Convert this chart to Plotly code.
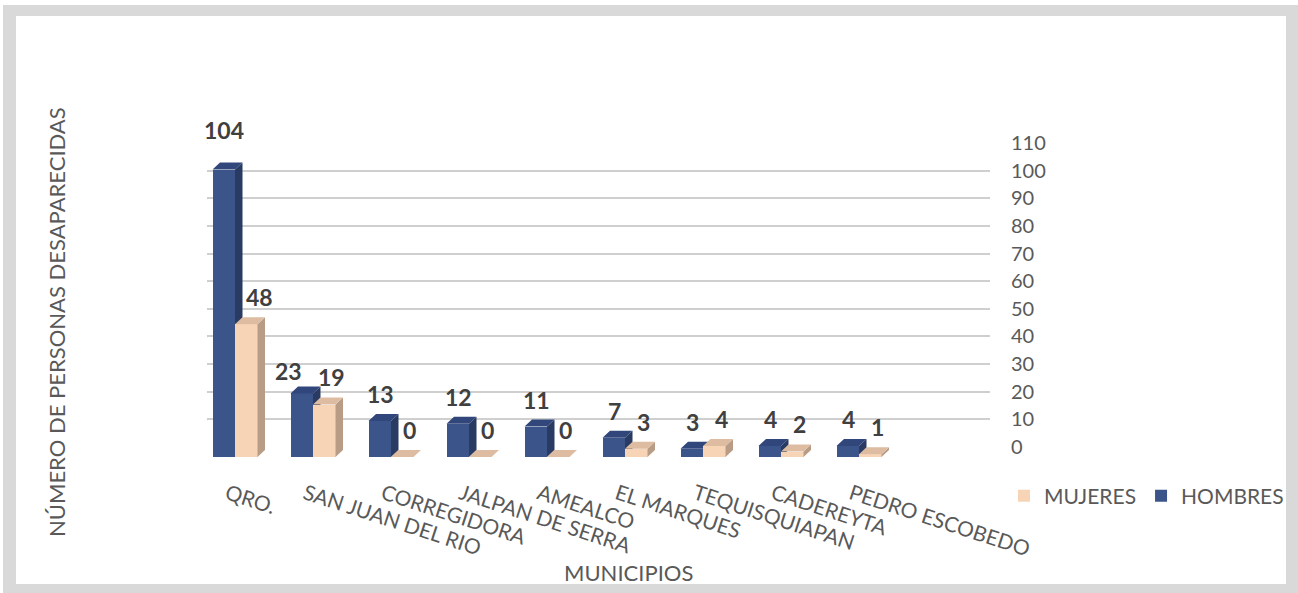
import plotly.graph_objects as go

# ---- data -------------------------------------------------------------
municipios = ["QRO.", "SAN JUAN DEL RIO", "CORREGIDORA", "JALPAN DE SERRA",
              "AMEALCO", "EL MARQUES", "TEQUISQUIAPAN", "CADEREYTA",
              "PEDRO ESCOBEDO"]
hombres = [104, 23, 13, 12, 11, 7, 3, 4, 4]
mujeres = [48, 19, 0, 0, 0, 3, 4, 2, 1]
y_ticks = list(range(0, 111, 10))

# ---- geometry / style -------------------------------------------------
W, H = 1298, 593
PX_PER_CAT = 78.0            # pixel width of one category slot
PX_PER_UNIT = 27.64 / 10     # pixels per one person on the value axis
BAR_W = 22.5 / PX_PER_CAT    # bar width in category units
DEPTH_DX = 7.5 / PX_PER_CAT  # 3-D depth offset (x, category units)
DEPTH_DY = 7.0 / PX_PER_UNIT # 3-D depth offset (y, value units)
LABEL_NUDGE = 8 / PX_PER_CAT # rotated category labels start a bit left

NAVY = "#3B5489"
NAVY_SIDE = "#2A3B63"
NAVY_TOP = "#31467A"
PEACH = "#F8D4B7"
PEACH_SIDE = "#B99C86"
PEACH_TOP = "#DDBCA2"
GRID = "#CFCFCF"
TXT = "#595959"
LBL = "#404040"
FONT = "Lato, 'Open Sans', sans-serif"


def fy(px):
    """pixel row -> paper fraction"""
    return 1 - px / H


def fx(px):
    return px / W


fig = go.Figure()

# ---- back wall gridlines + left-side depth ticks (xaxis / yaxis) -------
side_x, side_y = [], []
back_span = 990 - 207
for v in y_ticks:
    side_x += [-19 / back_span, 0, None]
    side_y += [v - 15 / PX_PER_UNIT, v, None]
fig.add_trace(go.Scatter(x=side_x, y=side_y, mode="lines",
                         line=dict(color=GRID, width=2), hoverinfo="skip",
                         showlegend=False, cliponaxis=False,
                         xaxis="x", yaxis="y"))


def faces(values, left_of):
    """side and top faces of the 3-D bars"""
    sx, sy, tx, ty = [], [], [], []
    for i, v in enumerate(values):
        l = i + left_of
        r = l + BAR_W
        sx += [r, r + DEPTH_DX, r + DEPTH_DX, r, r, None]
        sy += [0, DEPTH_DY, v + DEPTH_DY, v, 0, None]
        tx += [l, r, r + DEPTH_DX, l + DEPTH_DX, l, None]
        ty += [v, v, v + DEPTH_DY, v + DEPTH_DY, v, None]
    return sx, sy, tx, ty


xs = list(range(len(municipios)))

# ---- HOMBRES (x2 / y2) ---------------------------------------------------
fig.add_trace(go.Bar(x=xs, y=hombres, name="HOMBRES", width=BAR_W,
                     offset=-BAR_W, marker=dict(color=NAVY, line_width=0),
                     xaxis="x2", yaxis="y2", hoverinfo="skip"))
sx, sy, tx, ty = faces(hombres, -BAR_W)
fig.add_trace(go.Scatter(x=sx, y=sy, fill="toself", fillcolor=NAVY_SIDE,
                         mode="lines", line=dict(width=0), showlegend=False,
                         hoverinfo="skip", xaxis="x2", yaxis="y2"))
fig.add_trace(go.Scatter(x=tx, y=ty, fill="toself", fillcolor=NAVY_TOP,
                         mode="lines", line=dict(width=0), showlegend=False,
                         hoverinfo="skip", xaxis="x2", yaxis="y2"))

# ---- MUJERES (x3 / y3, drawn over the men's side faces) ------------------
fig.add_trace(go.Bar(x=xs, y=mujeres, name="MUJERES", width=BAR_W,
                     offset=0, marker=dict(color=PEACH, line_width=0),
                     xaxis="x3", yaxis="y3", hoverinfo="skip"))
sx, sy, tx, ty = faces(mujeres, 0)
fig.add_trace(go.Scatter(x=sx, y=sy, fill="toself", fillcolor=PEACH_SIDE,
                         mode="lines", line=dict(width=0), showlegend=False,
                         hoverinfo="skip", xaxis="x3", yaxis="y3"))
fig.add_trace(go.Scatter(x=tx, y=ty, fill="toself", fillcolor=PEACH_TOP,
                         mode="lines", line=dict(width=0), showlegend=False,
                         hoverinfo="skip", xaxis="x3", yaxis="y3"))

# ---- value labels ------------------------------------------------------
label_tweaks = {("h", 0): (0, 40), ("h", 1): (-13, 22), ("m", 0): (13, 27)}
annotations = []
for key, vals, off, dxs in (("h", hombres, -BAR_W / 2, 1),
                            ("m", mujeres, BAR_W / 2, 7)):
    for i, v in enumerate(vals):
        xsft, lift = label_tweaks.get((key, i), (dxs, 27))
        annotations.append(dict(
            x=i + off, y=v, xref="x2", yref="y2", text=str(v),
            showarrow=False, xshift=xsft, yshift=lift, yanchor="middle",
            font=dict(family=FONT, size=23, color=LBL, weight="bold")))

annotations.append(dict(x=fx(628), y=fy(572), xref="paper", yref="paper",
                        text="MUNICIPIOS", showarrow=False,
                        xanchor="center", yanchor="middle",
                        font=dict(family=FONT, size=22, color=TXT)))
annotations.append(dict(x=fx(56), y=fy(322), xref="paper", yref="paper",
                        text="NÚMERO DE PERSONAS DESAPARECIDAS",
                        textangle=-90, showarrow=False,
                        xanchor="center", yanchor="middle",
                        font=dict(family=FONT, size=22, color=TXT)))

# ---- frame -------------------------------------------------------------
shapes = [
    dict(type="rect", xref="paper", yref="paper", x0=fx(3), x1=1,
         y0=0, y1=fy(5), fillcolor="#D9D9D9", line_width=0, layer="below"),
    dict(type="rect", xref="paper", yref="paper", x0=fx(16), x1=fx(1286),
         y0=fy(584), y1=fy(16), fillcolor="white", line_width=0,
         layer="below"),
]

hidden = dict(visible=False, showgrid=False, zeroline=False,
              automargin=False)
x2_dom = [fx(196), fx(196 + 10 * PX_PER_CAT)]
y2_dom = [fy(457), fy(457 - 110 * PX_PER_UNIT)]

fig.update_layout(
    width=W, height=H,
    margin=dict(l=0, r=0, t=0, b=0, pad=0, autoexpand=False),
    paper_bgcolor="white", plot_bgcolor="rgba(0,0,0,0)",
    font=dict(family=FONT, color=TXT),
    showlegend=True,
    legend=dict(orientation="h", x=fx(1004), y=fy(496), xanchor="left",
                yanchor="middle", traceorder="reversed",
                font=dict(family=FONT, size=21, color=TXT),
                bgcolor="rgba(0,0,0,0)", itemwidth=30),
    xaxis=dict(domain=[fx(207), fx(990)], range=[0, 1], showgrid=False,
               zeroline=False, showticklabels=False, showline=False,
               automargin=False),
    yaxis=dict(domain=[fy(447), fy(143)], range=[0, 110], side="right",
               tickvals=y_ticks, showgrid=True, gridcolor=GRID,
               gridwidth=2, zeroline=False, showline=False,
               ticklabelstandoff=20, automargin=False,
               tickfont=dict(family=FONT, size=20, color=TXT)),
    xaxis2=dict(domain=x2_dom, range=[-0.5, 9.5], anchor="y2",
                tickvals=[i - LABEL_NUDGE for i in xs],
                ticktext=municipios, tickangle=18,
                showgrid=False, zeroline=False, showline=False,
                ticklabelstandoff=20, automargin=False,
                tickfont=dict(family=FONT, size=21, color=TXT)),
    yaxis2=dict(domain=y2_dom, range=[0, 110], anchor="x2", **hidden),
    xaxis3=dict(range=[-0.5, 9.5], overlaying="x2", anchor="y3", **hidden),
    yaxis3=dict(range=[0, 110], overlaying="y2", anchor="x3", **hidden),
    annotations=annotations,
    shapes=shapes,
    bargap=0,
)

fig.write_html("out.html")
